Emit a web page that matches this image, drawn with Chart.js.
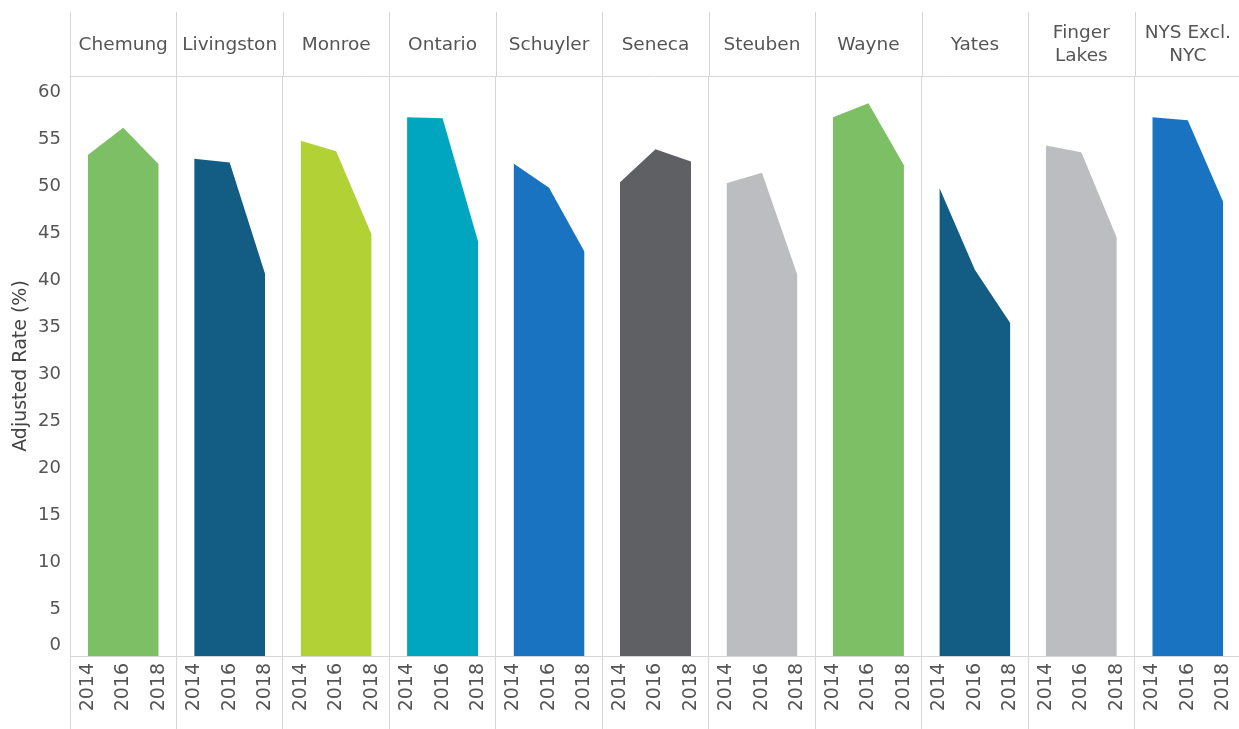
<!DOCTYPE html>
<html>
<head>
<meta charset="utf-8">
<title>Adjusted Rate by County, 2014–2018</title>
<script src="https://cdn.jsdelivr.net/npm/chart.js@4/dist/chart.umd.min.js"></script>
<style>
  html, body { margin: 0; padding: 0; background: #ffffff; overflow: hidden; }
  #wrap { width: 1239px; height: 729px; overflow: hidden; }
</style>
</head>
<body>
<div id="wrap"><canvas id="chart" width="1241" height="729"></canvas></div>
<script>
// Regions shown as small-multiple panels (multi-line names are arrays)
const regions = ['Chemung', 'Livingston', 'Monroe', 'Ontario', 'Schuyler', 'Seneca',
                 'Steuben', 'Wayne', 'Yates', ['Finger', 'Lakes'], ['NYS Excl.', 'NYC']];
const years = [2014, 2016, 2018];

// Adjusted rate (%) per region, for 2014, 2016, 2018
const chemung     = [53.3, 56.2, 52.3];
const livingston  = [52.9, 52.5, 40.6];
const monroe      = [54.8, 53.7, 44.8];
const ontario     = [57.3, 57.2, 44.1];
const schuyler    = [52.4, 49.8, 43.0];
const seneca      = [50.4, 53.9, 52.6];
const steuben     = [50.3, 51.4, 40.5];
const wayne       = [57.3, 58.8, 52.2];
const yates       = [49.8, 41.1, 35.4];
const fingerLakes = [54.3, 53.6, 44.5];
const nysExclNyc  = [57.3, 57.0, 48.3];
const seriesValues = [chemung, livingston, monroe, ontario, schuyler, seneca,
                      steuben, wayne, yates, fingerLakes, nysExclNyc];

const yTicks = [0, 5, 10, 15, 20, 25, 30, 35, 40, 45, 50, 55, 60];

const colors = ['#7dbf65', '#135c84', '#b1d134', '#00a6bf', '#1a73c1', '#5e6063',
                '#bcbdc0', '#7dbf65', '#135c84', '#bcbdc0', '#1a73c1'];

// Each panel spans 6 x-units: 2013..2019, so data sits at 2014/2016/2018
const SPAN = 6;
const YEAR0 = 2013;
const GRID = '#d6d6d6';
const TXT = '#555555';
const FONT = 'DejaVu Sans, Verdana, sans-serif';
const HEADER_TOP = 12;

const datasets = seriesValues.map((vals, i) => ({
  label: Array.isArray(regions[i]) ? regions[i].join(' ') : regions[i],
  data: years.map((yr, j) => ({ x: i * SPAN + (yr - YEAR0), y: vals[j] })),
  backgroundColor: colors[i],
  borderColor: colors[i],
  borderWidth: 0,
  pointRadius: 0,
  tension: 0,
  fill: 'origin'
}));

// Header band with region names, column dividers, and the offset zero label
const panelFrame = {
  id: 'panelFrame',
  afterDraw(chart) {
    const { ctx, chartArea, scales: { x, y } } = chart;
    ctx.save();
    ctx.strokeStyle = GRID;
    ctx.lineWidth = 1;
    for (let k = 0; k <= regions.length; k++) {
      const px = Math.round(x.getPixelForValue(k * SPAN)) + 0.5;
      ctx.beginPath();
      ctx.moveTo(px, HEADER_TOP);
      ctx.lineTo(px, chartArea.top);
      ctx.stroke();
    }
    ctx.beginPath();
    ctx.moveTo(chartArea.left, Math.round(chartArea.top) + 0.5);
    ctx.lineTo(chartArea.right, Math.round(chartArea.top) + 0.5);
    ctx.stroke();

    ctx.fillStyle = TXT;
    ctx.font = '18.5px ' + FONT;
    ctx.textAlign = 'center';
    ctx.textBaseline = 'middle';
    const mid = (HEADER_TOP + chartArea.top) / 2 + 1;
    regions.forEach((name, k) => {
      const lines = Array.isArray(name) ? name : [name];
      const cx = x.getPixelForValue(k * SPAN + SPAN / 2);
      lines.forEach((ln, i) => {
        ctx.fillText(ln, cx, mid + (i - (lines.length - 1) / 2) * 23);
      });
    });

    // zero tick label sits just above the baseline
    ctx.font = '18px ' + FONT;
    ctx.textAlign = 'right';
    ctx.fillText('0', y.right - 9, y.getPixelForValue(0) - 11);
    ctx.restore();
  }
};

new Chart(document.getElementById('chart'), {
  type: 'line',
  data: { datasets },
  options: {
    responsive: false,
    devicePixelRatio: 1,
    animation: false,
    layout: { padding: { top: 76, left: 0, right: 0, bottom: 0 } },
    plugins: { legend: { display: false }, tooltip: { enabled: false } },
    scales: {
      x: {
        type: 'linear',
        position: 'bottom',
        min: 0,
        max: regions.length * SPAN,
        afterBuildTicks(scale) {
          const t = [];
          for (let v = 0; v <= regions.length * SPAN; v++) t.push({ value: v });
          scale.ticks = t;
        },
        afterFit(scale) { scale.height = 73; },
        grid: {
          color: (ctx) => (ctx.tick && ctx.tick.value % SPAN === 0) ? GRID : 'rgba(0,0,0,0)',
          tickLength: 73,
          lineWidth: 1
        },
        border: { display: true, color: GRID },
        ticks: {
          autoSkip: false,
          minRotation: 90,
          maxRotation: 90,
          padding: -66,
          color: TXT,
          font: { family: FONT, size: 19 },
          callback: (v) => {
            const o = v % SPAN;
            return years.includes(YEAR0 + o) ? String(YEAR0 + o) : '';
          }
        }
      },
      y: {
        min: 0,
        max: 61.7,
        afterBuildTicks(scale) {
          scale.ticks = yTicks.map(v => ({ value: v }));
        },
        afterFit(scale) { scale.width = 70; },
        grid: { display: false },
        border: { display: true, color: GRID },
        ticks: {
          padding: 1,
          color: TXT,
          font: { family: FONT, size: 18 },
          callback: (v) => v === 0 ? '' : String(v)
        },
        title: {
          display: true,
          text: 'Adjusted Rate (%)',
          color: '#444444',
          font: { family: FONT, size: 19 },
          padding: { top: 10, bottom: 0 }
        }
      }
    }
  },
  plugins: [panelFrame]
});
</script>
</body>
</html>
